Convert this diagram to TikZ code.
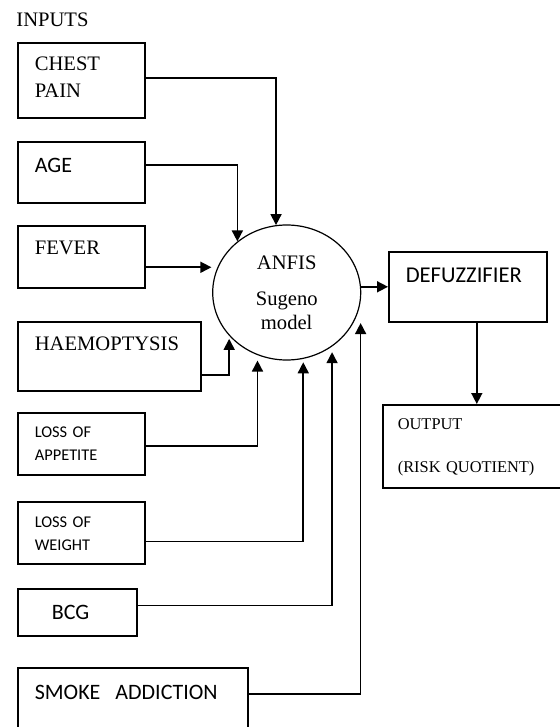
\documentclass[tikz,border=0pt]{standalone}
\usepackage{fontspec}
\setmainfont{Liberation Serif}
\newfontfamily\calibri{Carlito}
\usepackage{tikz}
\usetikzlibrary{
	shapes.geometric,
	arrows.meta
}

\tikzset{
	inbox/.style={draw,line width=0.8pt,anchor=north west,inner xsep=8.5pt,inner ysep=0pt,align=left},
	serif/.style={font=\fontsize{10.3}{13.5}\selectfont},
	sans/.style={font=\calibri\fontsize{11}{13}\selectfont},
	small/.style={font=\calibri\fontsize{8.2}{11.5}\selectfont},
	arr/.style={-{Triangle[length=5.5pt,width=5.5pt]},line width=0.8pt}
}

\begin{document}
\begin{tikzpicture}[x=0.5pt,y=-0.5pt]
		\useasboundingbox (0,0) rectangle (559,727);

		% inputs
		\draw
			node [anchor=base west,inner sep=0pt,serif] (inputs) at (16,26.7) {INPUTS}
			node [inbox,serif,text width=46.5pt,text height=14pt,text depth=23.5pt]   (chest)    at (17,42)    {CHEST\\PAIN}
			node [inbox,sans,text width=46.5pt,text height=15.5pt,text depth=15pt]    (age)      at (17,141)   {AGE}
			node [inbox,serif,text width=46.5pt,text height=14.2pt,text depth=16.8pt] (fever)    at (17,225)   {FEVER}
			node [inbox,serif,text width=74.5pt,text height=14.2pt,text depth=20.3pt] (haem)     at (17,321)   {HAEMOPTYSIS}
			node [inbox,small,text width=46.5pt,text height=12.5pt,text depth=18.5pt] (appetite) at (17,412)   {LOSS OF\\APPETITE}
			node [inbox,small,text width=46.5pt,text height=12.8pt,text depth=18.2pt] (weight)   at (17,501.3) {LOSS OF\\WEIGHT}
			node [inbox,sans,inner xsep=17pt,text width=25.5pt,text height=15.5pt,text depth=8.2pt] (bcg) at (17,588) {BCG}
			node [inbox,sans,text width=98pt,text height=16pt,text depth=18pt]        (smoke)    at (17,667)   {SMOKE\hspace{7.5pt}ADDICTION}
		;

		% model and output
		\draw
			node [ellipse,draw,line width=0.6pt,minimum width=74pt,minimum height=67.5pt,inner sep=0pt,align=center,
				font=\fontsize{10.3}{11.7}\selectfont] (anfis) at (286.7,292.5) {ANFIS\\[6.65pt]Sugeno\\model}
			node [inbox,font=\calibri\fontsize{11.3}{13}\selectfont,text width=62pt,text height=15.5pt,text depth=19.5pt] (defuzz) at (388,251) {DEFUZZIFIER}
			node [inbox,inner xsep=7.5pt,font=\fontsize{8.2}{21.5}\selectfont,text width=76.5pt,text height=12.2pt,text depth=29.3pt] (output) at (382,404) {OUTPUT\\(RISK QUOTIENT)}
		;

		% connectors
		\draw [arr] ([yshift=1.25pt]chest.east) -| (anfis.99);
		\draw [arr] ([yshift=3.75pt]age.east) -| (anfis.134);
		\draw [arr,shorten >=3pt] (fever.east |- anfis.160) -- (anfis.160);
		\draw [arr,shorten >=1.5pt] ([yshift=-9.25pt]haem.east) -| (anfis.-143);
		\draw [arr,shorten >=2.7pt] ([yshift=-1pt]appetite.east) -| (anfis.-115);
		\draw [arr,shorten >=1.7pt] ([yshift=-4.2pt]weight.east) -| (anfis.-76);
		\draw [arr,shorten >=2.8pt] ([yshift=3.5pt]bcg.east) -| (anfis.-50);
		\draw [arr,shorten >=10.75pt] ([yshift=4pt]smoke.east) -| (anfis.-7.2);
		\draw [arr] (anfis.east |- defuzz.west) -- (defuzz.west);
		\draw [arr] ([xshift=4.5pt]defuzz.south) -- ([xshift=4.5pt]defuzz.south |- output.north);
\end{tikzpicture}
\end{document}
